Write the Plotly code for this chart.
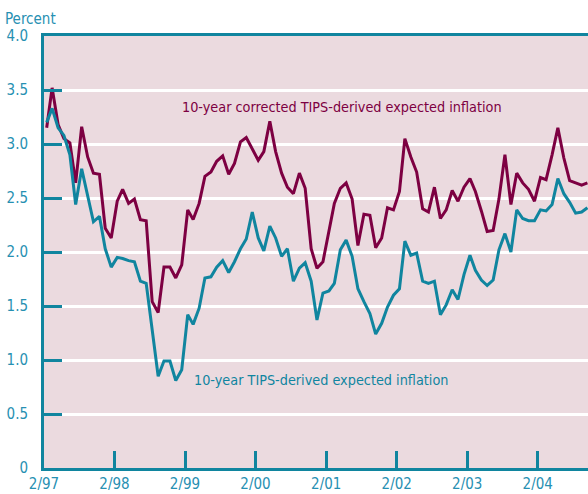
from plotly import graph_objects as go

# monthly observations, Feb 1997 - Oct 2004 (plotted mid-month)
months = [f"{1997 + (m + 1) // 12}-{(m + 1) % 12 + 1:02d}-15" for m in range(93)]

corrected = [
    3.15, 3.52, 3.18, 3.05, 3.01, 2.64, 3.16, 2.88, 2.73, 2.72, 2.22, 2.13,
    2.47, 2.58, 2.45, 2.49, 2.30, 2.29, 1.54, 1.44, 1.86, 1.86, 1.76, 1.88,
    2.39, 2.30, 2.45, 2.70, 2.74, 2.84, 2.89, 2.72, 2.82, 3.02, 3.06, 2.95,
    2.85, 2.93, 3.21, 2.93, 2.73, 2.60, 2.54, 2.73, 2.59, 2.03, 1.85, 1.91,
    2.20, 2.45, 2.59, 2.64, 2.49, 2.06, 2.35, 2.34, 2.04, 2.13, 2.41, 2.39,
    2.56, 3.05, 2.88, 2.74, 2.40, 2.37, 2.60, 2.31, 2.39, 2.57, 2.47, 2.60,
    2.68, 2.56, 2.38, 2.19, 2.20, 2.49, 2.90, 2.44, 2.73, 2.64, 2.58, 2.47,
    2.69, 2.67, 2.90, 3.15, 2.87, 2.66, 2.64, 2.62, 2.64,
]

tips = [
    3.20, 3.33, 3.15, 3.08, 2.90, 2.44, 2.77, 2.53, 2.28, 2.33, 2.03, 1.86,
    1.95, 1.94, 1.92, 1.91, 1.73, 1.71, 1.26, 0.85, 0.99, 0.99, 0.81, 0.91,
    1.42, 1.33, 1.48, 1.76, 1.77, 1.86, 1.92, 1.81, 1.91, 2.03, 2.12, 2.37,
    2.13, 2.01, 2.24, 2.13, 1.96, 2.03, 1.73, 1.85, 1.90, 1.73, 1.37, 1.62,
    1.64, 1.71, 2.02, 2.11, 1.96, 1.66, 1.54, 1.43, 1.24, 1.34, 1.49, 1.60,
    1.66, 2.10, 1.97, 1.99, 1.73, 1.71, 1.73, 1.42, 1.51, 1.65, 1.56, 1.79,
    1.97, 1.83, 1.74, 1.69, 1.74, 2.02, 2.17, 2.00, 2.39, 2.31, 2.29, 2.29,
    2.39, 2.38, 2.44, 2.68, 2.54, 2.46, 2.36, 2.37, 2.41,
]

x_tickvals = [f"{y}-02-01" for y in range(1997, 2005)]
x_ticktext = [f"2/{str(y)[2:]}" for y in range(1997, 2005)]
y_tickvals = [0, 0.5, 1.0, 1.5, 2.0, 2.5, 3.0, 3.5, 4.0]
y_ticktext = ["0", "0.5", "1.0", "1.5", "2.0", "2.5", "3.0", "3.5", "4.0"]

MAROON = "#7d0042"
TEAL = "#10859f"
LABEL = "#2790b2"
FONT = "DejaVu Sans Condensed, Liberation Sans Narrow, sans-serif"

fig = go.Figure()
fig.add_trace(go.Scatter(x=months, y=corrected, mode="lines",
                         line=dict(color=MAROON, width=3), showlegend=False))
fig.add_trace(go.Scatter(x=months, y=tips, mode="lines",
                         line=dict(color=TEAL, width=3), showlegend=False))

fig.update_layout(
    width=588,
    height=494,
    margin=dict(l=44, r=0, t=36, b=26),
    paper_bgcolor="white",
    plot_bgcolor="#ebdadf",
    font=dict(family=FONT, size=15, color=LABEL),
)

fig.update_xaxes(
    type="date",
    range=["1997-02-01", "2004-10-18"],
    tickvals=x_tickvals,
    ticktext=x_ticktext,
    ticks="inside",
    ticklen=17,
    tickwidth=3,
    tickcolor=TEAL,
    showline=True,
    linecolor=TEAL,
    linewidth=3,
    mirror=True,
    showgrid=False,
    zeroline=False,
    tickfont=dict(size=15, color=LABEL),
)

fig.update_yaxes(
    range=[0, 4.0],
    tickvals=y_tickvals,
    ticktext=y_ticktext,
    ticks="inside",
    ticklen=18,
    tickwidth=3,
    tickcolor=TEAL,
    showline=True,
    linecolor=TEAL,
    linewidth=3,
    showgrid=True,
    gridcolor="white",
    gridwidth=3,
    zeroline=False,
    ticklabelstandoff=10,
    tickfont=dict(size=15, color=LABEL),
)

fig.add_annotation(text="Percent", xref="paper", yref="paper",
                   x=-41 / 544, y=1.0, xanchor="left", yanchor="bottom", yshift=6,
                   showarrow=False, font=dict(size=15, color=LABEL))
fig.add_annotation(text="10-year corrected TIPS-derived expected inflation",
                   xref="paper", yref="paper", x=0.25, y=0.836,
                   xanchor="left", yanchor="middle", showarrow=False,
                   font=dict(size=14.3, color=MAROON))
fig.add_annotation(text="10-year TIPS-derived expected inflation",
                   xref="paper", yref="paper", x=0.272, y=0.204,
                   xanchor="left", yanchor="middle", showarrow=False,
                   font=dict(size=14.3, color=TEAL))

# drop the browser's default page margin so the figure sits at the window edge
fig.write_html(
    "out.html",
    config={"displayModeBar": False},
    post_script="document.body.style.margin = '0';",
)
